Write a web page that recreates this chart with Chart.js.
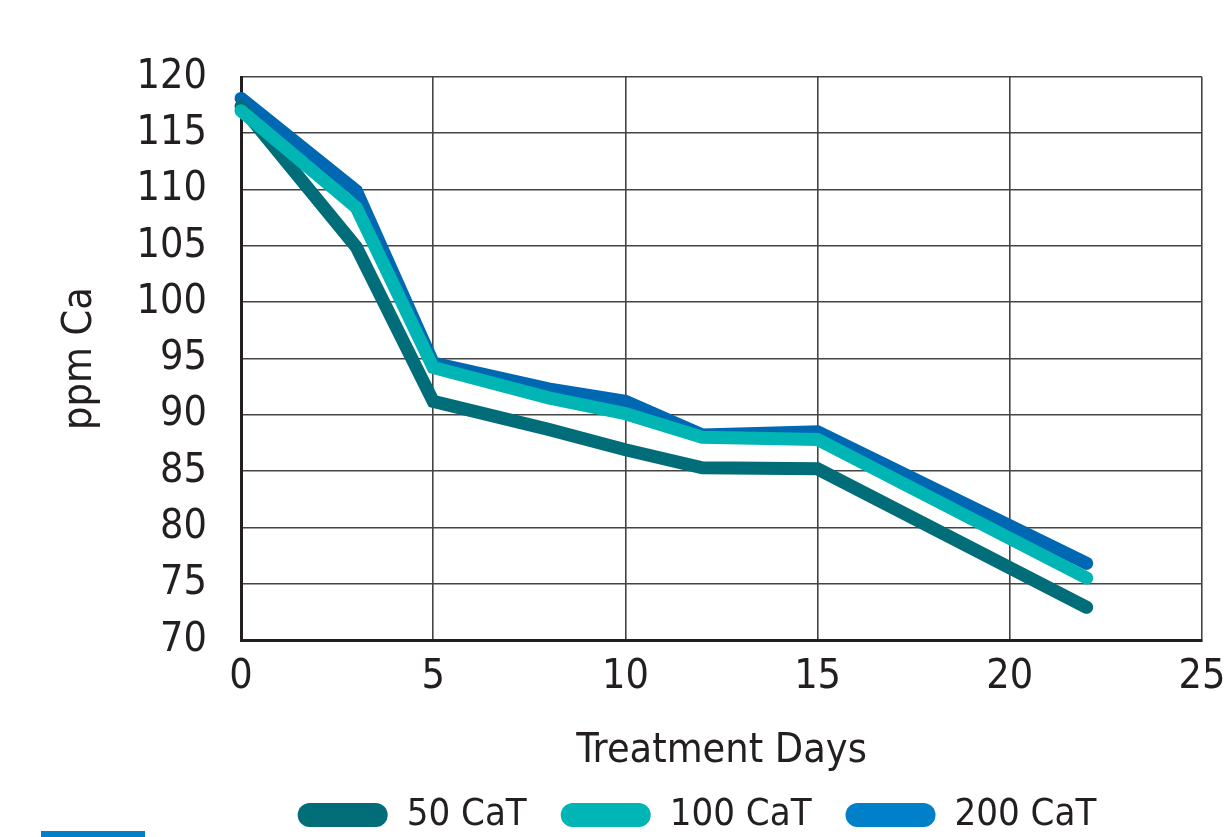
<!DOCTYPE html>
<html>
<head>
<meta charset="utf-8">
<script src="https://cdn.jsdelivr.net/npm/chart.js@4.4.1/dist/chart.umd.min.js"></script>
<style>
  body { margin: 0; background: #fff; }
  #wrap { position: relative; width: 1227px; height: 837px; }
  #bar { position: absolute; left: 41px; top: 831px; width: 104px; height: 6px; background: #0080c8; }
</style>
</head>
<body>
<div id="wrap">
  <canvas id="chart" width="1227" height="837"></canvas>
  <div id="bar"></div>
</div>
<script>
const dias = [0, 3, 5, 8, 10, 12, 15, 22];
const ca50 = [117.4, 104.9, 91.2, 88.7, 86.9, 85.3, 85.2, 72.9];
const ca100 = [117.0, 108.4, 94.2, 91.5, 90.1, 88.0, 87.8, 75.5];
const ca200 = [118.1, 109.9, 94.6, 92.3, 91.2, 88.2, 88.5, 76.8];

const series = ["50 CaT", "100 CaT", "200 CaT"];
const coloresLinea = ["#006d79", "#00b5b4", "#0068b3"];
const coloresLeyenda = ["#006d79", "#00b5b4", "#0080c8"];
const ordenDibujo = [1, 0, 2];

const fuente = "'Liberation Sans Narrow', 'DejaVu Sans Condensed', 'Liberation Sans', sans-serif";
const colorTexto = "#231f20";

function puntos(valores) {
  return dias.map((d, i) => ({ x: d, y: valores[i] }));
}

// mueve la leyenda a su lugar
const moverLeyenda = {
  id: "moverLeyenda",
  afterLayout(chart) {
    const lg = chart.legend;
    lg.left += 96;
    lg.right += 96;
    lg.top = 762;
    lg.bottom = 840;
  },
};

new Chart(document.getElementById("chart"), {
  type: "line",
  data: {
    datasets: [ca50, ca100, ca200].map((vals, i) => ({
      label: series[i],
      data: puntos(vals),
      borderColor: coloresLinea[i],
      backgroundColor: coloresLeyenda[i],
      borderWidth: 13,
      borderCapStyle: "round",
      borderJoinStyle: "miter",
      pointRadius: 0,
      tension: 0,
      clip: false,
      order: ordenDibujo[i],
    })),
  },
  options: {
    responsive: false,
    animation: false,
    layout: { padding: { top: 77, right: 25, left: 0, bottom: 0 } },
    plugins: {
      tooltip: { enabled: false },
      legend: {
        position: "bottom",
        maxHeight: 72,
        labels: {
          boxWidth: 90,
          boxHeight: 24,
          useBorderRadius: true,
          borderRadius: 12,
          padding: 34,
          color: colorTexto,
          font: { family: fuente, size: 38 },
          sort: (a, b) => a.datasetIndex - b.datasetIndex,
          generateLabels(chart) {
            const items = Chart.defaults.plugins.legend.labels.generateLabels(chart);
            return items.map((it) => ({
              ...it,
              fillStyle: coloresLeyenda[it.datasetIndex],
              strokeStyle: coloresLeyenda[it.datasetIndex],
              lineWidth: 0,
            }));
          },
        },
      },
    },
    scales: {
      x: {
        type: "linear",
        min: 0,
        max: 25,
        afterFit: (s) => {
          s.height = 125;
          s.paddingRight = 0;
        },
        ticks: {
          stepSize: 5,
          padding: 13,
          color: colorTexto,
          font: { family: fuente, size: 41 },
        },
        grid: { color: "#444", lineWidth: 1.6, drawTicks: false },
        border: { color: colorTexto, width: 3 },
        title: {
          display: true,
          text: "Treatment Days",
          color: colorTexto,
          font: { family: fuente, size: 41, lineHeight: "28px" },
          padding: { top: 0, bottom: 0 },
        },
      },
      y: {
        min: 70,
        max: 120,
        afterFit: (s) => { s.width = 241; },
        ticks: {
          stepSize: 5,
          autoSkip: false,
          padding: 34,
          color: colorTexto,
          font: { family: fuente, size: 41 },
        },
        grid: { color: "#444", lineWidth: 1.6, drawTicks: false },
        border: { color: colorTexto, width: 3 },
        title: {
          display: true,
          text: "ppm Ca",
          color: colorTexto,
          font: { family: fuente, size: 41, lineHeight: "40px" },
          padding: { top: 60, bottom: 0 },
        },
      },
    },
  },
  plugins: [moverLeyenda],
});
</script>
</body>
</html>
